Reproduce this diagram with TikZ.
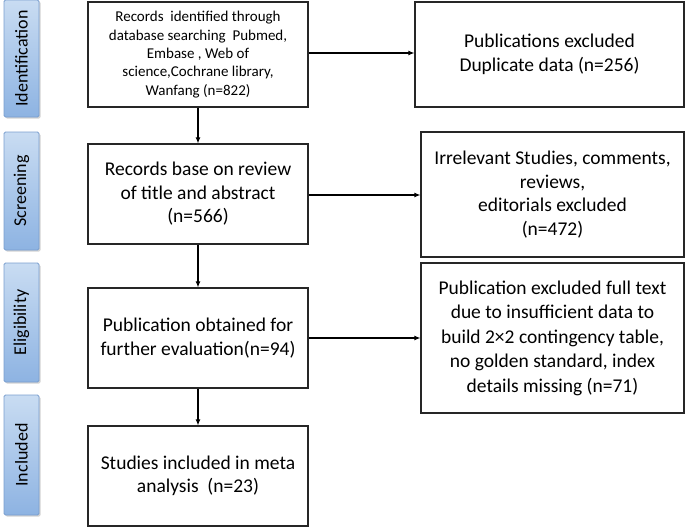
\documentclass[tikz,border=0pt]{standalone}
\usepackage{fontspec}
\setmainfont{Carlito}
\usetikzlibrary{arrows.meta,shadows}
\definecolor{barTop}{HTML}{C9DCF2}
\definecolor{barBot}{HTML}{8DB3E2}
\definecolor{barLine}{HTML}{7A9FCF}
\tikzset{
  box/.style={draw=black!85, line width=1.2pt, fill=white, align=center, inner sep=2pt},
  bigtext/.style={font=\fontsize{19.5}{23.5}\selectfont},
  smalltext/.style={font=\fontsize{15}{18.3}\selectfont},
  phase/.style={draw=barLine, line width=0.9pt, rounded corners=1.5pt, top color=barTop, bottom color=barBot,
    minimum width=35pt, drop shadow={shadow xshift=1.5pt, shadow yshift=-1.5pt, opacity=0.35},
    font=\fontsize{18}{21}\selectfont, text=black},
  flow/.style={line width=1.1pt, -{Latex[length=6pt,width=5pt]}},
}
\begin{document}
\begin{tikzpicture}[x=1pt,y=-1pt]
\useasboundingbox (0,0) rectangle (685,527);
% phase bars
\node[phase, minimum height=117pt] (p1) at (21.5,58.5) {\rotatebox{90}{Identification}};
\node[phase, minimum height=118pt] (p2) at (21.5,191) {\rotatebox{90}{Screening}};
\node[phase, minimum height=119pt] (p3) at (21.5,322.5) {\rotatebox{90}{Eligibility}};
\node[phase, minimum height=120pt] (p4) at (21.5,455) {\rotatebox{90}{Included}};
% left column
\node[box, smalltext, minimum width=220pt, minimum height=105pt] (b1) at (198,54.5)
  {Records\ \ identified through\\ database searching\ \ Pubmed,\\ Embase , Web of\\ science,Cochrane library,\\ Wanfang (n=822)};
\node[box, bigtext, minimum width=220pt, minimum height=100pt] (b2) at (198,194)
  {Records base on review\\ of title and abstract\\ (n=566)};
\node[box, bigtext, minimum width=220pt, minimum height=100pt] (b3) at (198,338)
  {Publication obtained for\\ further evaluation(n=94)};
\node[box, bigtext, minimum width=220pt, minimum height=100pt] (b4) at (198,476)
  {Studies included in meta\\ analysis\ \ (n=23)};
% right column
\node[box, bigtext, minimum width=269pt, minimum height=105pt] (e1) at (549.5,54.5)
  {Publications excluded\\ Duplicate data (n=256)};
\node[box, bigtext, minimum width=263pt, minimum height=125pt] (e2) at (552.5,194.5)
  {Irrelevant Studies, comments,\\ reviews,\\ editorials excluded\\ (n=472)};
\node[box, bigtext, minimum width=263pt, minimum height=150pt, font=\fontsize{19.5}{24.5}\selectfont] (e3) at (552.5,338)
  {Publication excluded full text\\ due to insufficient data to\\ build 2×2 contingency table,\\ no golden standard, index\\ details missing (n=71)};
% connectors
\draw[flow] (b1) -- (b2);
\draw[flow] (b2) -- (b3);
\draw[flow] (b3) -- (b4);
\draw[flow] (b1.east |- 0,53) -- (e1.west |- 0,53);
\draw[flow] (b2.east |- 0,195) -- (e2.west |- 0,195);
\draw[flow] (b3) -- (e3.west |- b3);
\end{tikzpicture}
\end{document}
